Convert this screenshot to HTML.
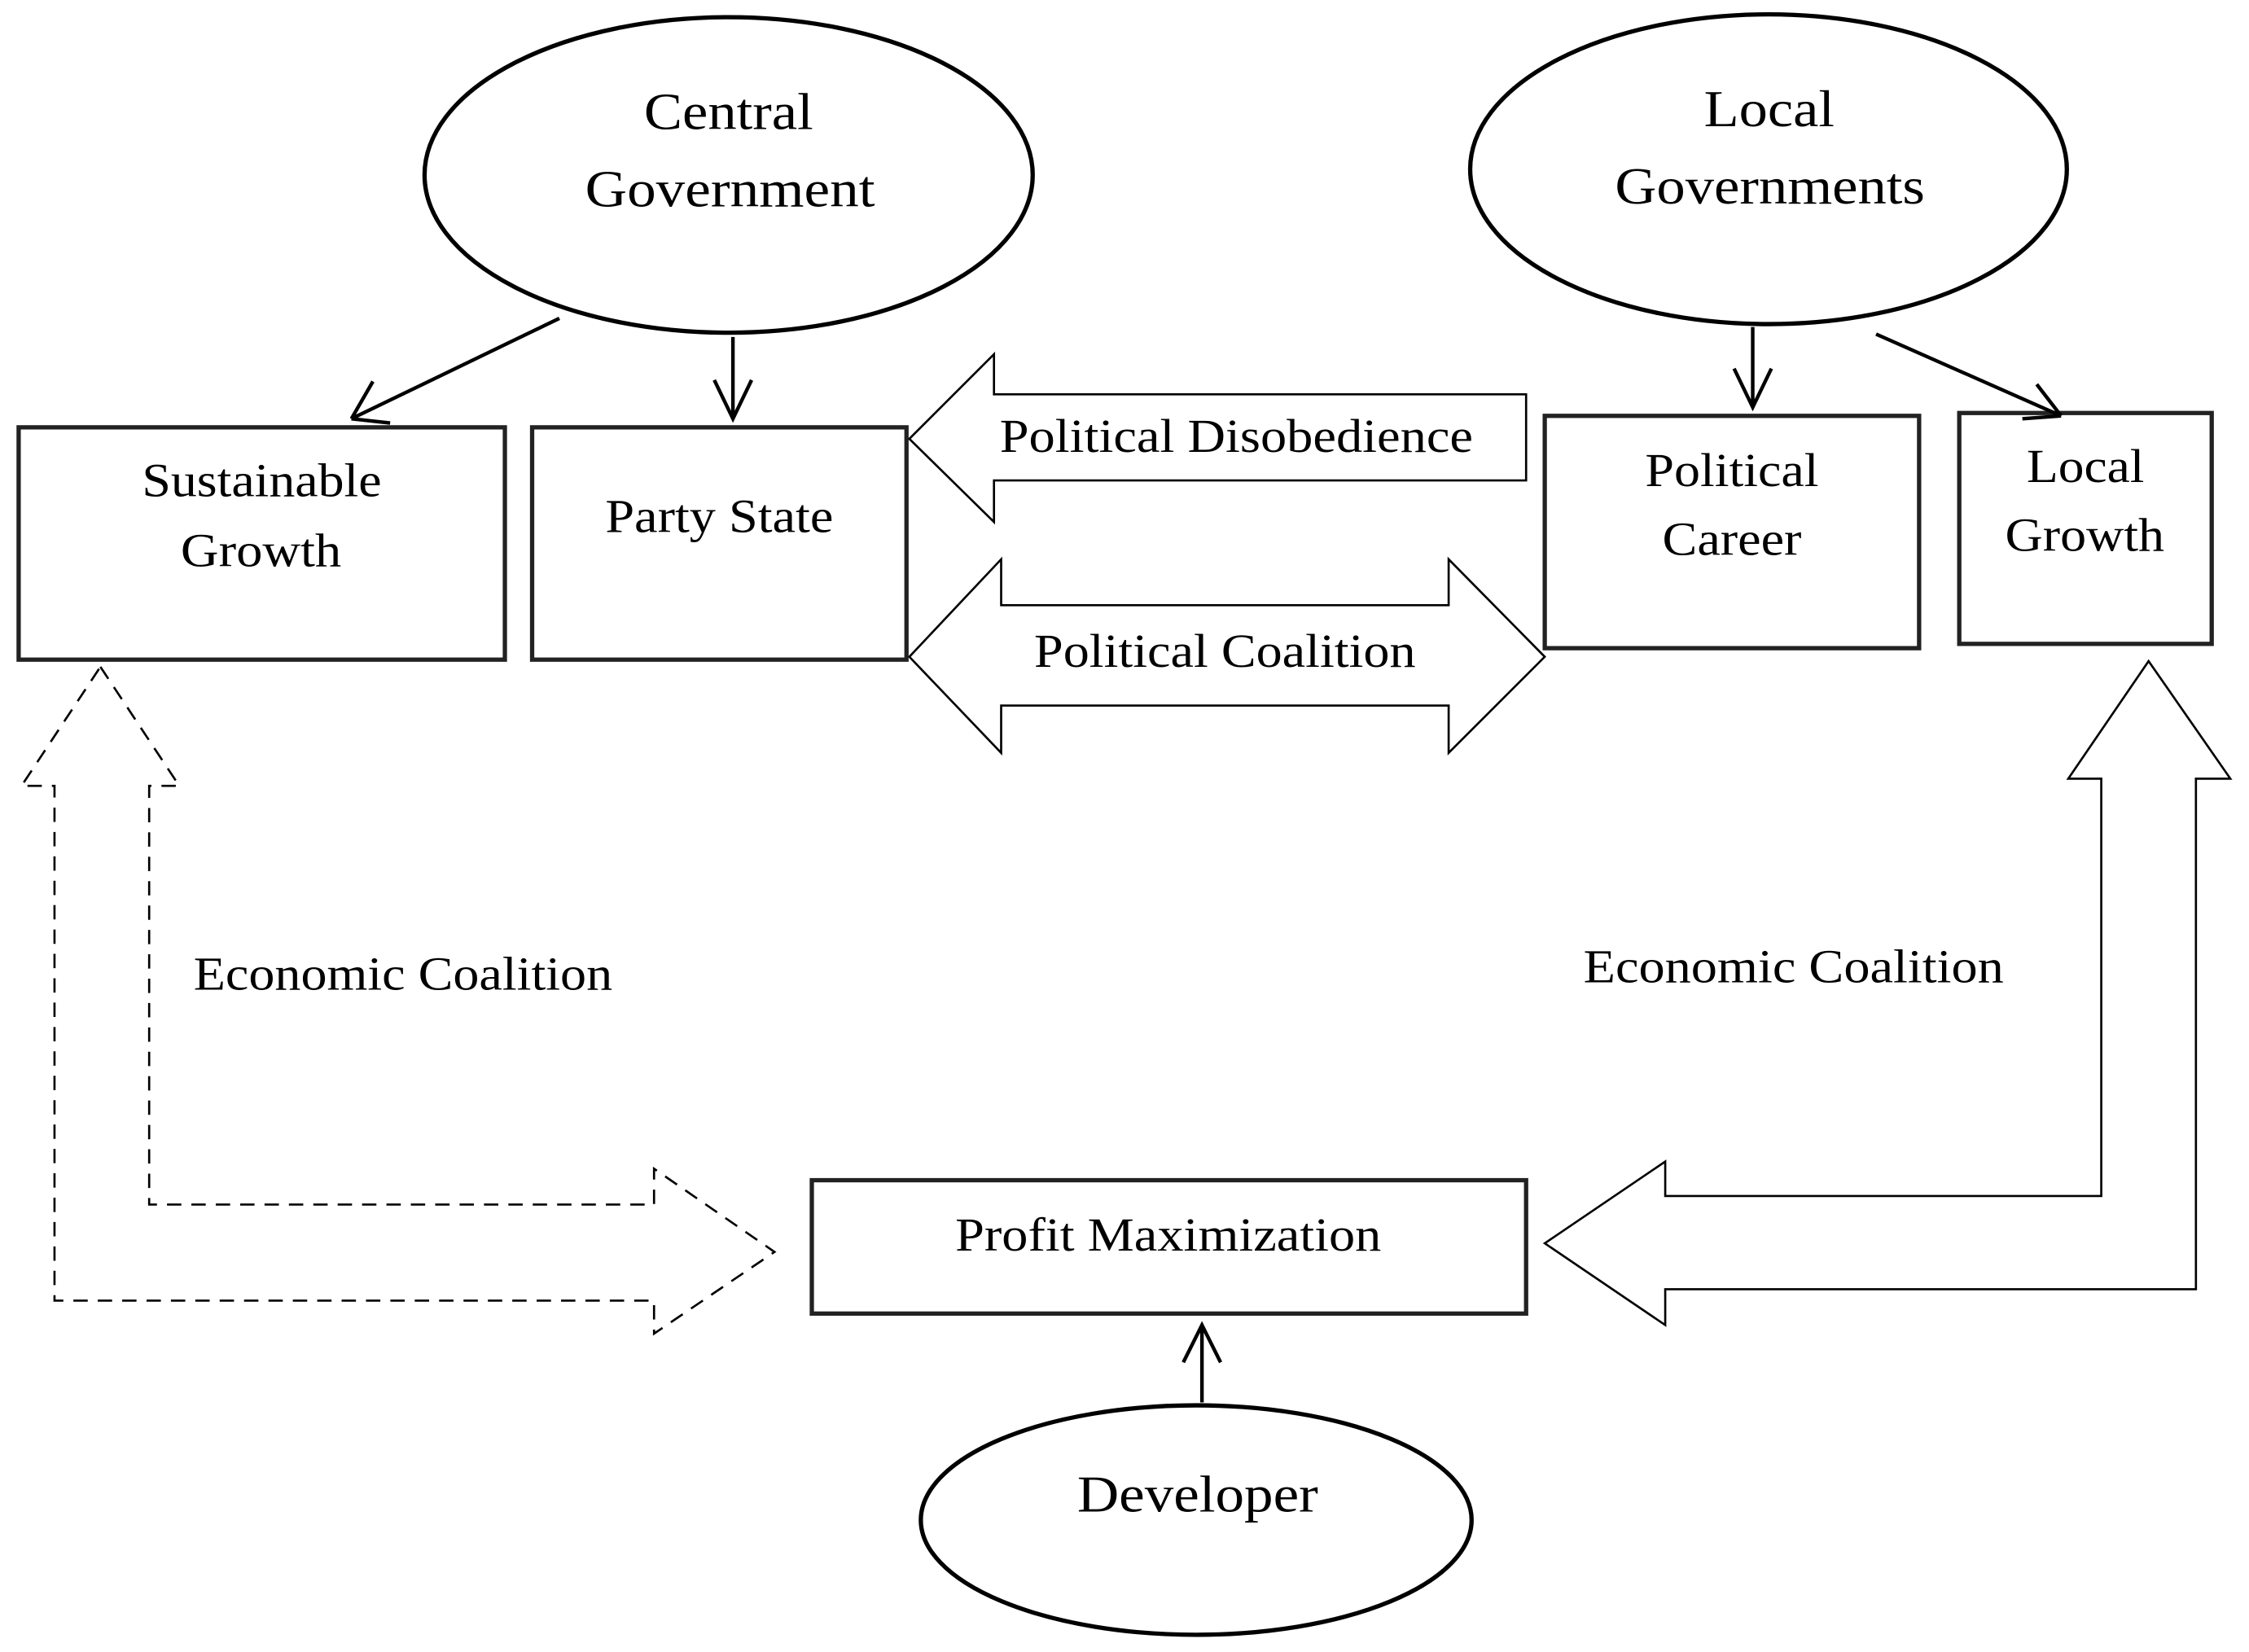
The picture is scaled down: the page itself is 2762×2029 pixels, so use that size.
<!DOCTYPE html>
<html><head><meta charset="utf-8"><style>
html,body{margin:0;padding:0;background:#fff;}
svg{display:block;}
text{font-family:"Liberation Serif",serif;fill:#000;}
</style></head><body>
<svg width="2762" height="2029" viewBox="0 0 1568 1152" preserveAspectRatio="none" xmlns="http://www.w3.org/2000/svg">
<g fill="none" stroke="#000">
<ellipse cx="508" cy="122" rx="212" ry="110" stroke-width="3"/>
<ellipse cx="1233" cy="118" rx="208" ry="108" stroke-width="3"/>
<ellipse cx="834" cy="1060" rx="192" ry="80" stroke-width="3"/>
<g stroke="#222" stroke-width="3">
<rect x="13" y="298" width="339" height="162"/>
<rect x="371" y="298" width="261" height="162"/>
<rect x="1077" y="290" width="261" height="162"/>
<rect x="1366" y="288" width="176" height="161"/>
<rect x="566" y="823" width="498" height="93"/>
</g>
<g stroke-width="2.5">
<path d="M390 222 L245 292 M245 292 L260 266 M245 292 L272 295"/>
<path d="M511 235 L511 292 M498 265 L511 292 L524 265"/>
<path d="M1222 228 L1222 284 M1209 257 L1222 284 L1235 257"/>
<path d="M1308 233 L1437 290 M1437 290 L1410 292 M1437 290 L1420 268"/>
<path d="M838 978 L838 924 M825 950 L838 924 L851 950"/>
</g>
<g stroke-width="1.5">
<polygon points="634,306 693,247 693,275 1064,275 1064,335 693,335 693,364"/>
<polygon points="634,458 698,390 698,422 1010,422 1010,390 1077,458 1010,525 1010,492 698,492 698,525"/>
<polygon points="1498,461 1555,543 1531,543 1531,899 1161,899 1161,924 1077,867 1161,810 1161,834 1465,834 1465,543 1442,543"/>
<polygon stroke-dasharray="10,7" points="70,465 125,548 104,548 104,840 456,840 456,815 540,873 456,930 456,907 38,907 38,548 15,548"/>
</g>
</g>
<g font-size="36" lengthAdjust="spacingAndGlyphs">
<text x="449" y="90" textLength="118" lengthAdjust="spacingAndGlyphs">Central</text>
<text x="408" y="144" textLength="202" lengthAdjust="spacingAndGlyphs">Government</text>
<text x="1188" y="88" textLength="91" lengthAdjust="spacingAndGlyphs">Local</text>
<text x="1126" y="142" textLength="216" lengthAdjust="spacingAndGlyphs">Governments</text>
<text x="751" y="1054" textLength="168" lengthAdjust="spacingAndGlyphs">Developer</text>
</g>
<g font-size="33">
<text x="99" y="346" textLength="167" lengthAdjust="spacingAndGlyphs">Sustainable</text>
<text x="126" y="395" textLength="112" lengthAdjust="spacingAndGlyphs">Growth</text>
<text x="422" y="371" textLength="159" lengthAdjust="spacingAndGlyphs">Party State</text>
<text x="1147" y="339" textLength="121" lengthAdjust="spacingAndGlyphs">Political</text>
<text x="1159" y="387" textLength="97" lengthAdjust="spacingAndGlyphs">Career</text>
<text x="1413" y="336" textLength="82" lengthAdjust="spacingAndGlyphs">Local</text>
<text x="1398" y="384" textLength="111" lengthAdjust="spacingAndGlyphs">Growth</text>
<text x="666" y="872" textLength="297" lengthAdjust="spacingAndGlyphs">Profit Maximization</text>
<text x="697" y="315" textLength="330" lengthAdjust="spacingAndGlyphs">Political Disobedience</text>
<text x="721" y="465" textLength="266" lengthAdjust="spacingAndGlyphs">Political Coalition</text>
<text x="135" y="690" textLength="292" lengthAdjust="spacingAndGlyphs">Economic Coalition</text>
<text x="1104" y="685" textLength="293" lengthAdjust="spacingAndGlyphs">Economic Coalition</text>
</g>
</svg>
</body></html>
